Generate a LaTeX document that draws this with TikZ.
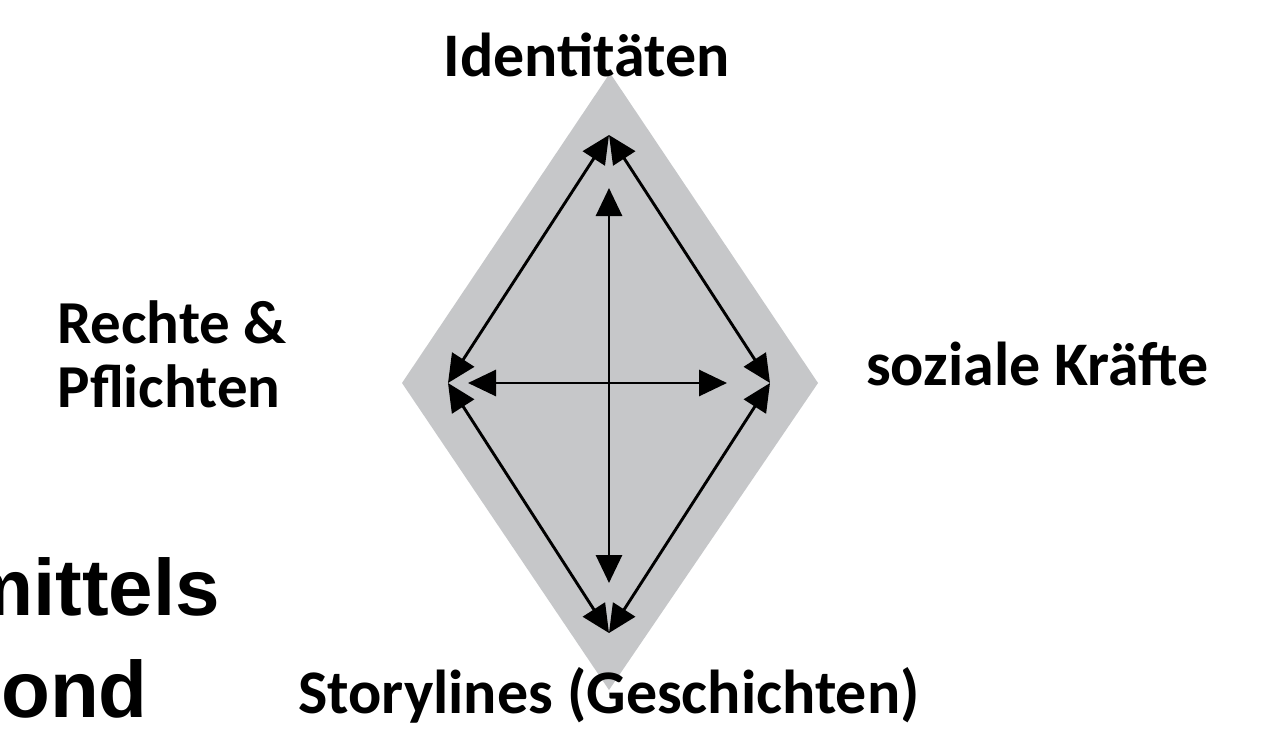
\documentclass[tikz,border=0pt]{standalone}
\usepackage{fontspec}
\setmainfont{Carlito}
\newfontfamily\arialfont{Liberation Sans}
\usetikzlibrary{arrows.meta}
\definecolor{diamondgrey}{RGB}{198,199,201}
\tikzset{
  label/.style={inner sep=0pt, font=\bfseries\fontsize{62}{70}\selectfont},
  sidelabel/.style={inner sep=0pt, font=\bfseries\fontsize{61}{70}\selectfont},
  bigtext/.style={inner sep=0pt, font=\arialfont\bfseries\fontsize{80}{96}\selectfont},
  link/.style={line width=2.9pt, {Triangle[length=28pt,width=26pt]}-{Triangle[length=28pt,width=26pt]}}
}
\begin{document}
\begin{tikzpicture}[x=1pt,y=-1pt]
\useasboundingbox (0,0) rectangle (1273,731);
\clip (0,0) rectangle (1273,731);
\fill[white] (0,0) rectangle (1273,731);
% diamond
\coordinate (dt) at (610,73);
\coordinate (dr) at (818,383);
\coordinate (db) at (609,690);
\coordinate (dl) at (402,383);
\fill[diamondgrey] (dt) -- (dr) -- (db) -- (dl) -- cycle;
% arrow end points
\coordinate (T) at (609,135);
\coordinate (L) at (448,383);
\coordinate (R) at (770,383);
\coordinate (B) at (609,633);
\coordinate (vt) at (609,188);
\coordinate (vb) at (609,583);
\coordinate (hl) at (468,383);
\coordinate (hr) at (727,383);
\draw[link] (T) -- (L);
\draw[link] (T) -- (R);
\draw[link] (B) -- (L);
\draw[link] (B) -- (R);
\draw[link] (vt) -- (vb);
\draw[link] (hl) -- (hr);
% labels
\node[label, anchor=base] (ident) at (587,76) {Identitäten};
\node[sidelabel, anchor=base west] (rechte) at (57,343) {Rechte \&};
\node[sidelabel, anchor=base west] (pflichten) at (57,407) {Pflichten};
\node[label, anchor=base west] (sozial) at (866,385) {soziale Kräfte};
\node[label, anchor=base west] (story) at (298,713) {Storylines (Geschichten)};
\node[bigtext, anchor=base west] (mittels) at (-38,615) {mittels};
\node[bigtext, anchor=base west] (ond) at (1,717) {ond};
\end{tikzpicture}
\end{document}
